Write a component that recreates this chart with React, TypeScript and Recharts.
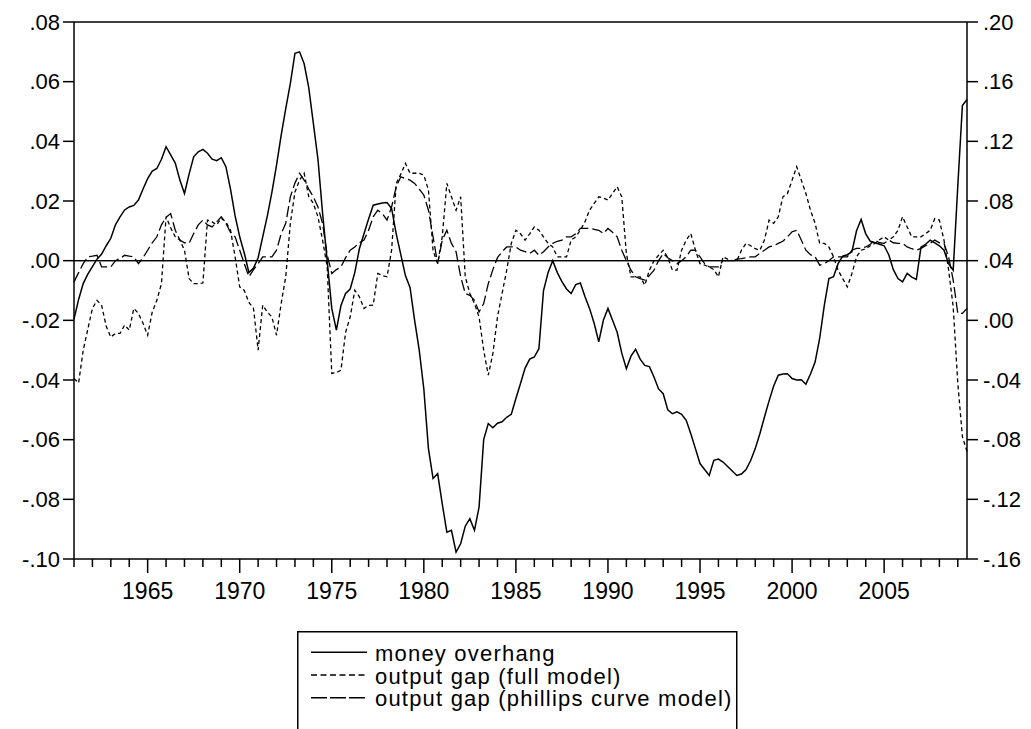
import React from 'react';
import { LineChart, Line, XAxis, YAxis, ReferenceLine } from 'recharts';

// quarterly observations, 1961Q1 .. 2009Q3
const START_YEAR = 1961;

const moneyOverhang = [
  -0.0196, -0.013, -0.0077, -0.0045, -0.002, 0.0005, 0.0022, 0.005, 0.0075, 0.012,
  0.0147, 0.017, 0.018, 0.0185, 0.0203, 0.024, 0.0275, 0.03, 0.0309, 0.034,
  0.0382, 0.0355, 0.0327, 0.027, 0.0225, 0.029, 0.0348, 0.0365, 0.0373, 0.036,
  0.034, 0.0335, 0.0345, 0.0315, 0.024, 0.015, 0.008, 0.0025, -0.004, -0.0025,
  0.001, 0.008, 0.015, 0.023, 0.032, 0.042, 0.051, 0.0594, 0.0695, 0.07,
  0.066, 0.058, 0.046, 0.034, 0.016, 0.0, -0.016, -0.0233, -0.015, -0.011,
  -0.0095, -0.004, 0.004, 0.009, 0.014, 0.0186, 0.019, 0.0193, 0.0195, 0.0175,
  0.009, 0.002, -0.005, -0.009, -0.02, -0.03, -0.043, -0.063, -0.073, -0.0714,
  -0.0815, -0.091, -0.0904, -0.0977, -0.0949, -0.089, -0.0865, -0.0904, -0.0826, -0.06,
  -0.0546, -0.056, -0.0545, -0.054, -0.0525, -0.0515, -0.0462, -0.0412, -0.036, -0.033,
  -0.0323, -0.0295, -0.01, -0.004, 0.0, -0.004, -0.007, -0.0095, -0.011, -0.008,
  -0.0075, -0.012, -0.016, -0.021, -0.0272, -0.02, -0.016, -0.02, -0.024, -0.031,
  -0.0362, -0.032, -0.0297, -0.033, -0.0351, -0.0355, -0.039, -0.043, -0.0446, -0.05,
  -0.0513, -0.0507, -0.0515, -0.0535, -0.058, -0.063, -0.068, -0.07, -0.072, -0.0669,
  -0.0665, -0.0675, -0.069, -0.0705, -0.072, -0.0715, -0.07, -0.067, -0.063, -0.058,
  -0.0524, -0.047, -0.042, -0.0384, -0.038, -0.0379, -0.0395, -0.04, -0.0399, -0.0414,
  -0.038, -0.034, -0.026, -0.015, -0.006, -0.0054, -0.001, 0.0015, 0.002, 0.003,
  0.01, 0.0138, 0.009, 0.0065, 0.006, 0.0055, 0.005, 0.002, -0.003, -0.006,
  -0.0071, -0.0043, -0.0055, -0.0063, 0.0045, 0.0055, 0.0069, 0.006, 0.005, 0.0035,
  -0.001, -0.0032, 0.025, 0.052, 0.054,
];

const outputGapFull = [
  -0.0395, -0.041, -0.03, -0.023, -0.016, -0.0133, -0.015, -0.022, -0.0256, -0.0244,
  -0.0244, -0.0216, -0.0233, -0.016, -0.0177, -0.021, -0.025, -0.0172, -0.0133, -0.0077,
  0.0147, 0.011, 0.008, 0.0069, 0.0035, -0.006, -0.0077, -0.0077, -0.0075, 0.0136,
  0.013, 0.012, 0.0142, 0.013, 0.0102, 0.0013, -0.0088, -0.01, -0.014, -0.016,
  -0.03, -0.0149, -0.0172, -0.0189, -0.025, -0.0144, -0.0054, 0.0125, 0.023, 0.027,
  0.0293, 0.0214, 0.0192, 0.0147, 0.0069, -0.002, -0.0378, -0.0375, -0.0367, -0.024,
  -0.0189, -0.0099, -0.0121, -0.016, -0.015, -0.0149, -0.0043, -0.005, -0.0054, 0.0035,
  0.0259, 0.029, 0.0326, 0.0293, 0.0293, 0.0293, 0.0287, 0.0237, 0.0035, -0.001,
  0.008, 0.0259, 0.0214, 0.0169, 0.0214, -0.0054, -0.011, -0.0144, -0.0189, -0.03,
  -0.0384, -0.0311, -0.0189, -0.011, -0.0032, 0.0058, 0.0102, 0.009, 0.0069, 0.009,
  0.0113, 0.0102, 0.008, 0.0058, 0.0046, 0.0013, 0.0013, 0.0013, 0.0069, 0.008,
  0.0102, 0.013, 0.0169, 0.0192, 0.0214, 0.021, 0.0203, 0.0225, 0.0248, 0.0214,
  0.0024, -0.0054, -0.0054, -0.0054, -0.0082, -0.0032, 0.0, 0.0018, 0.0035, 0.001,
  -0.0032, -0.0032, 0.0035, 0.0069, 0.0091, 0.0035, -0.001, -0.0015, -0.0021, -0.003,
  -0.0054, 0.0013, 0.0005, 0.0, 0.0, 0.0035, 0.0058, 0.005, 0.004, 0.0035,
  0.0069, 0.0136, 0.0125, 0.0147, 0.0214, 0.0225, 0.027, 0.0315, 0.027, 0.0225,
  0.0169, 0.0125, 0.0058, 0.0058, 0.0046, 0.0013, -0.0032, -0.006, -0.0088, -0.0043,
  0.0013, 0.0035, 0.004, 0.005, 0.0058, 0.007, 0.008, 0.0069, 0.008, 0.0102,
  0.0147, 0.0113, 0.008, 0.008, 0.008, 0.009, 0.0102, 0.0141, 0.0136, 0.0069,
  -0.003, -0.0155, -0.041, -0.059, -0.064,
];

const outputGapPhillips = [
  -0.0071, -0.004, -0.001, 0.0013, 0.0015, 0.0018, -0.0021, -0.0021, -0.0021, 0.0,
  0.0007, 0.0018, 0.0015, 0.0013, -0.001, 0.001, 0.0035, 0.006, 0.008, 0.012,
  0.0145, 0.0158, 0.0102, 0.0069, 0.006, 0.0058, 0.0091, 0.012, 0.0136, 0.012,
  0.0113, 0.013, 0.0147, 0.0125, 0.0095, 0.008, 0.0035, -0.001, -0.0054, -0.003,
  -0.001, 0.0013, 0.0013, 0.0013, 0.0035, 0.009, 0.0125, 0.0214, 0.026, 0.0293,
  0.027, 0.024, 0.0214, 0.018, 0.0125, 0.002, -0.0043, -0.003, -0.0021, 0.001,
  0.0035, 0.0046, 0.006, 0.0069, 0.0102, 0.0147, 0.0169, 0.0158, 0.0136, 0.018,
  0.0248, 0.0281, 0.0275, 0.027, 0.0259, 0.024, 0.022, 0.0169, 0.008, -0.001,
  0.0069, 0.0102, 0.0058, 0.003, -0.0054, -0.011, -0.0116, -0.0133, -0.0172, -0.0144,
  -0.0077, -0.003, 0.001, 0.003, 0.0046, 0.0046, 0.0046, 0.0035, 0.003, 0.0024,
  0.0035, 0.0018, 0.003, 0.0046, 0.0058, 0.0065, 0.0069, 0.008, 0.008, 0.009,
  0.0108, 0.0108, 0.0108, 0.0105, 0.0102, 0.0091, 0.0108, 0.0095, 0.008, 0.0035,
  0.0, -0.0032, -0.0054, -0.006, -0.0065, -0.005, -0.0032, 0.0, 0.0024, 0.001,
  0.0, -0.001, 0.0, 0.0013, 0.0035, 0.0035, 0.0013, -0.001, -0.0021, -0.0021,
  -0.0021, 0.0, 0.0, 0.0, 0.0005, 0.0007, 0.001, 0.0013, 0.0013, 0.0025,
  0.0035, 0.0046, 0.005, 0.0058, 0.0065, 0.008, 0.0097, 0.0102, 0.0069, 0.0035,
  0.002, 0.0013, -0.0015, -0.001, 0.0, 0.0013, 0.0013, 0.0013, 0.0013, 0.0035,
  0.0041, 0.0041, 0.0046, 0.0055, 0.0069, 0.006, 0.0058, 0.0069, 0.006, 0.0058,
  0.0058, 0.0046, 0.004, 0.0035, 0.0041, 0.005, 0.0058, 0.0069, 0.006, 0.0058,
  0.0013, -0.0065, -0.0177, -0.0177, -0.016,
];

const yearTicks = [
  1961, 1962, 1963, 1964, 1965, 1966, 1967, 1968, 1969, 1970,
  1971, 1972, 1973, 1974, 1975, 1976, 1977, 1978, 1979, 1980,
  1981, 1982, 1983, 1984, 1985, 1986, 1987, 1988, 1989, 1990,
  1991, 1992, 1993, 1994, 1995, 1996, 1997, 1998, 1999, 2000,
  2001, 2002, 2003, 2004, 2005, 2006, 2007, 2008, 2009,
];
const labeledYears = [1965, 1970, 1975, 1980, 1985, 1990, 1995, 2000, 2005];
const leftTicks = [-0.1, -0.08, -0.06, -0.04, -0.02, 0, 0.02, 0.04, 0.06, 0.08];
const rightTicks = [-0.16, -0.12, -0.08, -0.04, 0, 0.04, 0.08, 0.12, 0.16, 0.2];

const legendItems = [
  { label: 'money overhang', dash: undefined as string | undefined },
  { label: 'output gap (full model)', dash: '6 3.5' },
  { label: 'output gap (phillips curve model)', dash: '16 3' },
];

const FONT = "'Liberation Sans', Arial, sans-serif";

const data = moneyOverhang.map((v, i) => ({
  t: START_YEAR + i / 4,
  period: `${START_YEAR + Math.floor(i / 4)}Q${(i % 4) + 1}`,
  money: v,
  full: outputGapFull[i],
  phillips: outputGapPhillips[i],
}));

const fmt = (v: number) => v.toFixed(2).replace('0.', '.');

const YearTick = (props: any) => {
  const { x, y, payload } = props;
  const major = labeledYears.includes(payload.value);
  return (
    <g>
      <line x1={x} y1={y} x2={x} y2={y + (major ? 14 : 8)} stroke="#000" strokeWidth={1.5} />
      {major && (
        <text x={x} y={y + 40} textAnchor="middle" fontSize={23} fontFamily={FONT} fill="#000">
          {payload.value}
        </text>
      )}
    </g>
  );
};

const axisStroke = { stroke: '#000', strokeWidth: 1.5 };
const tickStyle = { fill: '#000', fontSize: 22, fontFamily: FONT };

export default function App() {
  return (
    <div
      style={{
        position: 'absolute',
        left: 0,
        top: 0,
        width: 1031,
        height: 729,
        background: '#fff',
        overflow: 'hidden',
        fontFamily: FONT,
      }}
    >
      <LineChart width={1031} height={729} data={data} margin={{ top: 22, right: 0, bottom: 130, left: 0 }}>
        <XAxis
          dataKey="t"
          type="number"
          domain={[1961, 2009.5]}
          ticks={yearTicks}
          interval={0}
          height={40}
          tickSize={0}
          tickMargin={0}
          tickLine={false}
          axisLine={axisStroke}
          tick={<YearTick />}
        />
        <YAxis
          yAxisId="left"
          orientation="left"
          width={74}
          domain={[-0.1, 0.08]}
          ticks={leftTicks}
          interval={0}
          tickFormatter={fmt}
          tickSize={11}
          tickMargin={3}
          tickLine={axisStroke}
          axisLine={axisStroke}
          tick={tickStyle}
        />
        <YAxis
          yAxisId="right"
          orientation="right"
          width={64}
          type="number"
          domain={[-0.16, 0.2]}
          allowDataOverflow
          ticks={rightTicks}
          interval={0}
          tickFormatter={fmt}
          tickSize={11}
          tickMargin={5}
          tickLine={axisStroke}
          axisLine={axisStroke}
          tick={tickStyle}
        />
        <ReferenceLine yAxisId="left" y={0.08} stroke="#000" strokeWidth={1.5} />
        <ReferenceLine yAxisId="left" y={0} stroke="#000" strokeWidth={1.2} />
        <ReferenceLine yAxisId="right" y={0.04} stroke="#000" strokeWidth={1.2} />
        <Line
          yAxisId="left"
          type="linear"
          dataKey="money"
          stroke="#000"
          strokeWidth={1.5}
          dot={false}
          isAnimationActive={false}
        />
        <Line
          yAxisId="left"
          type="linear"
          dataKey="full"
          stroke="#000"
          strokeWidth={1.3}
          strokeDasharray="4 3"
          dot={false}
          isAnimationActive={false}
        />
        <Line
          yAxisId="left"
          type="linear"
          dataKey="phillips"
          stroke="#000"
          strokeWidth={1.3}
          strokeDasharray="11 4"
          dot={false}
          isAnimationActive={false}
        />
        {/* binds the right-hand scale; draws nothing */}
        <Line
          yAxisId="right"
          dataKey="rightScale"
          stroke="none"
          dot={false}
          activeDot={false}
          legendType="none"
          isAnimationActive={false}
        />
      </LineChart>

      <svg
        width={442}
        height={100}
        style={{ position: 'absolute', left: 297, top: 631 }}
      >
        <rect x={0.75} y={0.75} width={439} height={140} fill="#fff" stroke="#000" strokeWidth={1.5} />
        {legendItems.map((item, i) => (
          <g key={item.label}>
            <line
              x1={14}
              x2={70}
              y1={21.3 + i * 22.7}
              y2={21.3 + i * 22.7}
              stroke="#000"
              strokeWidth={1.5}
              strokeDasharray={item.dash}
            />
            <text
              x={78}
              y={30 + i * 22.7}
              fontSize={22}
              fontFamily={FONT}
              letterSpacing={1.2}
              fill="#000"
            >
              {item.label}
            </text>
          </g>
        ))}
      </svg>
    </div>
  );
}
